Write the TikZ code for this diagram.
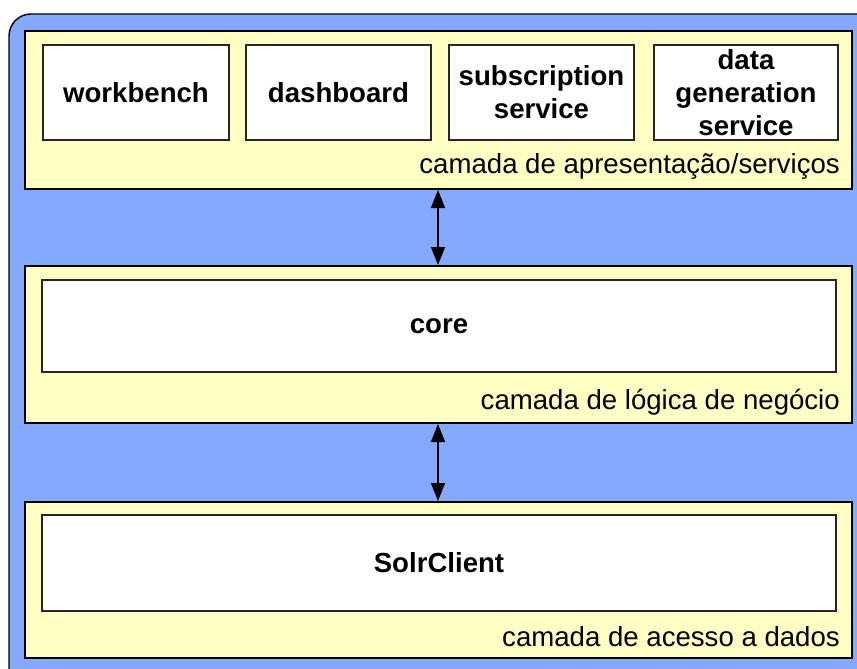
\documentclass[tikz,border=0pt]{standalone}
\usepackage{fontspec}
\setmainfont{Liberation Sans}
\usetikzlibrary{arrows.meta}
\definecolor{frameblue}{RGB}{132,169,255}
\definecolor{layeryellow}{RGB}{255,255,196}
\tikzset{
  layer/.style={draw=black, line width=1.4pt, fill=layeryellow},
  module/.style={draw=black!85, line width=1.4pt, fill=white, align=center,
    font=\fontsize{27.6}{33}\selectfont\bfseries},
  layerlabel/.style={anchor=east, font=\fontsize{27.6}{33}\selectfont, inner sep=0pt},
  link/.style={line width=1.4pt, {Triangle[length=18pt,width=14pt]}-{Triangle[length=18pt,width=14pt]}}
}
\begin{document}
\begin{tikzpicture}[x=1pt,y=-1pt]
\useasboundingbox (0,0) rectangle (857,669);
\clip (0,0) rectangle (857,669);
% outer frame
\draw[fill=frameblue, line width=1.4pt, rounded corners=22pt] (9,14) rectangle (880,692);
% layers
\draw[layer] (25,31) rectangle (852,189);
\draw[layer] (25,266) rectangle (852,423);
\draw[layer] (25,502) rectangle (852,658);
\coordinate (top1) at (438,190);
\coordinate (bot1) at (438,265);
\coordinate (top2) at (438,424);
\coordinate (bot2) at (438,501);
% presentation/services modules
\node[module, minimum width=186pt, minimum height=95pt] (wb) at (136,92.5) {workbench};
\node[module, minimum width=185pt, minimum height=95pt] (db) at (338.5,92.5) {dashboard};
\node[module, minimum width=185pt, minimum height=95pt] (ss) at (541.5,92.5) {subscription\\service};
\node[module, minimum width=184pt, minimum height=95pt] (dg) at (746,92.5) {data\\generation\\service};
\node[layerlabel] (l1) at (840,166) {camada de apresentação/serviços};
% business logic
\node[module, minimum width=794pt, minimum height=92pt] (core) at (439,326) {core};
\node[layerlabel] (l2) at (840,402) {camada de lógica de negócio};
% data access
\node[module, minimum width=794pt, minimum height=96pt] (solr) at (439,563) {SolrClient};
\node[layerlabel] (l3) at (840,637) {camada de acesso a dados};
% links between layers
\draw[link] (top1) -- (bot1);
\draw[link] (top2) -- (bot2);
\end{tikzpicture}
\end{document}
